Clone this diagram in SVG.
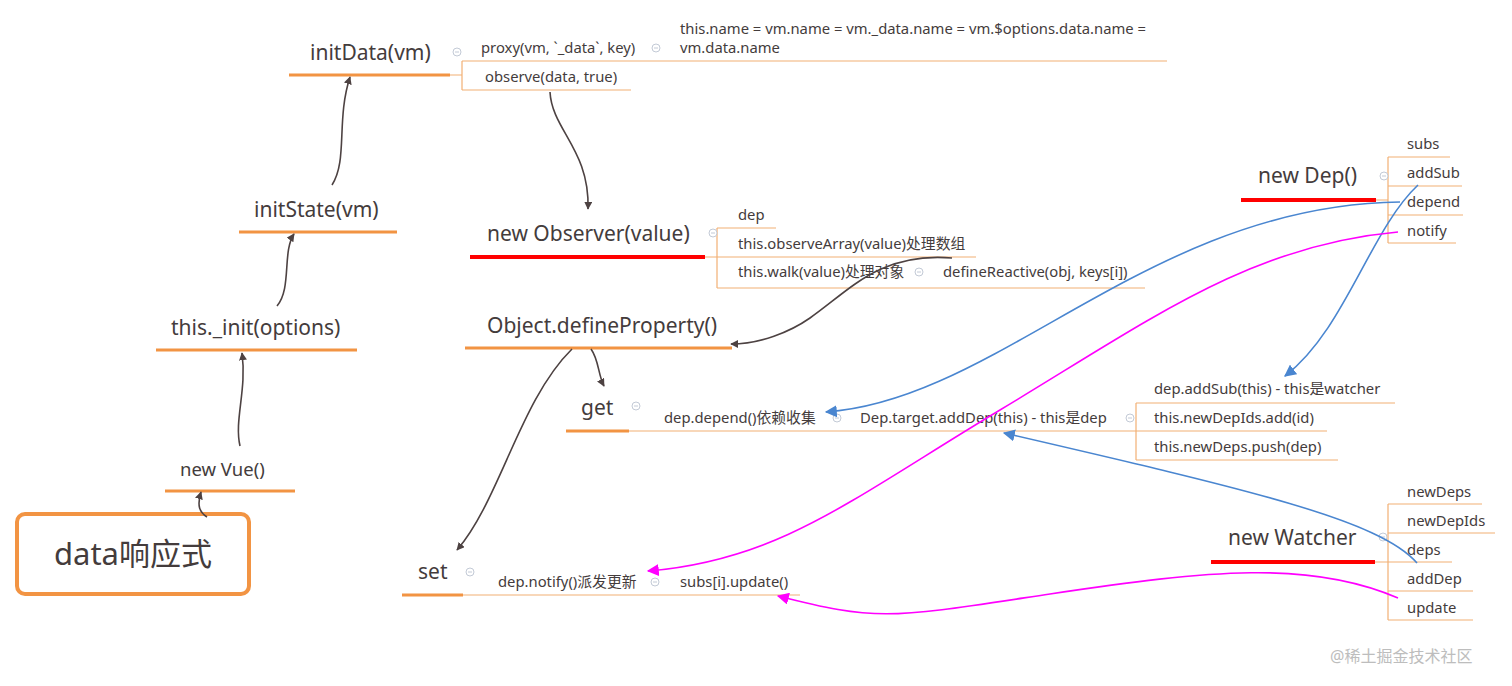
<svg xmlns="http://www.w3.org/2000/svg" width="1512" height="686" viewBox="0 0 1512 686">
<defs>
<style>
text{font-family:"Noto Sans","Noto Sans CJK SC",sans-serif;fill:#443c3c}
.big{font-size:21px}
.mid{font-size:18.5px}
.sm{font-size:14.8px}
.thick{stroke:#f29443;stroke-width:3;fill:none}
.red{stroke:#ff0000;stroke-width:4;fill:none}
.thin{stroke:#f2b074;stroke-width:1.2;fill:none}
.ic{fill:#fff;stroke:#c3cad6;stroke-width:1}
.icm{stroke:#c3cad6;stroke-width:1}
.dk{stroke:#4d4242;stroke-width:1.6;fill:none;marker-end:url(#ad)}
.bl{stroke:#4a86d0;stroke-width:1.6;fill:none;marker-end:url(#ab)}
.mg{stroke:#ff00ff;stroke-width:1.6;fill:none;marker-end:url(#am)}
</style>
<marker id="ad" viewBox="0 0 10 10" refX="9" refY="5" markerWidth="8" markerHeight="8" markerUnits="userSpaceOnUse" orient="auto"><path d="M0,0L10,5L0,10z" fill="#4d4242"/></marker>
<marker id="ab" viewBox="0 0 10 10" refX="9" refY="5" markerWidth="12" markerHeight="12" markerUnits="userSpaceOnUse" orient="auto"><path d="M0,0L10,5L0,10z" fill="#4a86d0"/></marker>
<marker id="am" viewBox="0 0 10 10" refX="9" refY="5" markerWidth="12" markerHeight="12" markerUnits="userSpaceOnUse" orient="auto"><path d="M0,0L10,5L0,10z" fill="#ff00ff"/></marker>
<g id="collapse"><circle r="4" class="ic"/><line x1="-2" y1="0" x2="2" y2="0" class="icm"/></g>
</defs>
<rect width="1512" height="686" fill="#fff"/>

<g id="node-root">
<rect x="17" y="514" width="232" height="80" rx="8" fill="#fff" stroke="#f29443" stroke-width="4"/>
<text x="133" y="565" font-size="31" text-anchor="middle">data响应式</text>
</g>

<g id="node-newvue">
<text x="180" y="476" class="mid">new Vue()</text>
<line x1="165" y1="491" x2="295" y2="491" class="thick"/>
</g>

<g id="node-init">
<text x="171" y="335" class="big">this._init(options)</text>
<line x1="156" y1="350" x2="357" y2="350" class="thick"/>
</g>

<g id="node-initstate">
<text x="254" y="217" class="big">initState(vm)</text>
<line x1="239" y1="232" x2="397" y2="232" class="thick"/>
</g>

<g id="node-initdata">
<text x="310" y="60" class="big">initData(vm)</text>
<line x1="289" y1="75" x2="450" y2="75" class="thick"/>
<path d="M450,75H462M462,61V90M462,61H1167M462,90H631" class="thin"/>
<use href="#collapse" x="457" y="52"/>
<text x="481" y="53" class="sm">proxy(vm, `_data`, key)</text>
<use href="#collapse" x="656" y="48"/>
<text x="680" y="34" class="sm">this.name = vm.name = vm._data.name = vm.$options.data.name =</text>
<text x="680" y="53" class="sm">vm.data.name</text>
<text x="485" y="82" class="sm">observe(data, true)</text>
</g>

<g id="node-observer">
<text x="487" y="241" class="big">new Observer(value)</text>
<line x1="470" y1="257" x2="705" y2="257" class="red"/>
<path d="M705,257H717M717,228V288M717,228H776M717,257H976M717,288H1145" class="thin"/>
<use href="#collapse" x="713" y="233"/>
<text x="738" y="220" class="sm">dep</text>
<text x="738" y="249" class="sm">this.observeArray(value)处理数组</text>
<text x="738" y="277" class="sm">this.walk(value)处理对象</text>
<use href="#collapse" x="919" y="272"/>
<text x="943" y="277" class="sm">defineReactive(obj, keys[i])</text>
</g>

<g id="node-defineproperty">
<text x="487" y="333" class="big">Object.defineProperty()</text>
<line x1="465" y1="348" x2="732" y2="348" class="thick"/>
</g>

<g id="node-get">
<text x="581" y="415" class="big">get</text>
<line x1="566" y1="431" x2="629" y2="431" class="thick"/>
<path d="M629,431H1327M1136,403V460M1136,403H1395M1136,460H1338" class="thin"/>
<use href="#collapse" x="636" y="406"/>
<text x="664" y="423" class="sm">dep.depend()依赖收集</text>
<use href="#collapse" x="837" y="418"/>
<text x="860" y="423" class="sm">Dep.target.addDep(this) - this是dep</text>
<use href="#collapse" x="1130" y="418"/>
<text x="1154" y="394" class="sm">dep.addSub(this) - this是watcher</text>
<text x="1154" y="423" class="sm">this.newDepIds.add(id)</text>
<text x="1154" y="452" class="sm">this.newDeps.push(dep)</text>
</g>

<g id="node-set">
<text x="418" y="579" class="big">set</text>
<line x1="402" y1="595" x2="463" y2="595" class="thick"/>
<line x1="463" y1="595" x2="800" y2="595" class="thin"/>
<use href="#collapse" x="470" y="572"/>
<text x="498" y="587" class="sm">dep.notify()派发更新</text>
<use href="#collapse" x="655" y="582"/>
<text x="680" y="587" class="sm">subs[i].update()</text>
</g>

<g id="node-dep">
<text x="1258" y="183" class="big">new Dep()</text>
<line x1="1241" y1="200" x2="1376" y2="200" class="red"/>
<path d="M1376,200H1388M1388,157V243M1388,157H1450M1388,186H1462M1388,215H1463M1388,243H1456" class="thin"/>
<use href="#collapse" x="1384" y="176"/>
<text x="1407" y="149" class="sm">subs</text>
<text x="1407" y="178" class="sm">addSub</text>
<text x="1407" y="207" class="sm">depend</text>
<text x="1407" y="236" class="sm">notify</text>
</g>

<g id="node-watcher">
<text x="1228" y="545" class="big">new Watcher</text>
<line x1="1211" y1="562" x2="1375" y2="562" class="red"/>
<path d="M1375,562H1388M1388,504V620M1388,504H1482M1388,533H1495M1388,562H1452M1388,591H1473M1388,620H1473" class="thin"/>
<use href="#collapse" x="1383" y="537"/>
<text x="1407" y="497" class="sm">newDeps</text>
<text x="1407" y="526" class="sm">newDepIds</text>
<text x="1407" y="555" class="sm">deps</text>
<text x="1407" y="584" class="sm">addDep</text>
<text x="1407" y="613" class="sm">update</text>
</g>

<g id="connectors">
<path d="M207,517C199,512 197,505 201,492" class="dk"/>
<path d="M240,446C234,420 247,390 242,353" class="dk"/>
<path d="M277,306C292,288 282,252 294,234" class="dk"/>
<path d="M332,185C348,160 336,120 350,77" class="dk"/>
<path d="M550,92C552,130 590,150 588,209" class="dk"/>
<path d="M952,258C880,252 850,290 810,318C790,332 760,344 731,344" class="dk"/>
<path d="M591,349C599,360 598,375 604,386" class="dk"/>
<path d="M572,349C520,400 500,500 457,550" class="dk"/>
<path d="M1400,202C1150,205 1000,400 826,412" class="bl"/>
<path d="M1418,185C1370,230 1345,330 1285,376" class="bl"/>
<path d="M1417,563C1380,520 1250,490 1004,433" class="bl"/>
<path d="M1398,232C1250,245 1150,320 1000,410S780,560 648,571" class="mg"/>
<path d="M1398,598C1310,560 1210,570 1050,594S880,622 778,596" class="mg"/>
</g>

<text x="1330" y="662" font-size="16" style="fill:#bdbdbd">@稀土掘金技术社区</text>
</svg>
